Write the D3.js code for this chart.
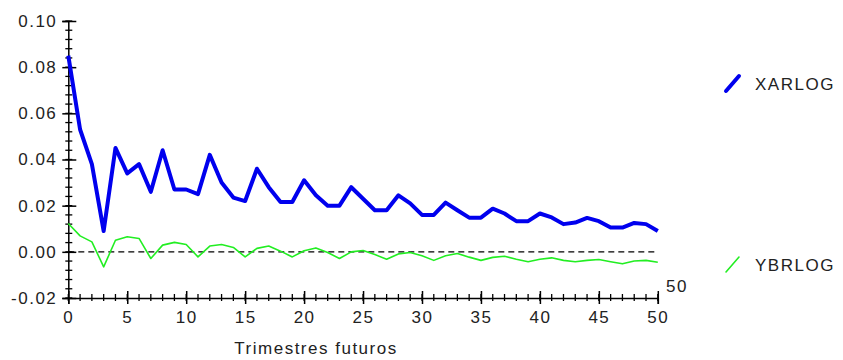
<!DOCTYPE html>
<html>
<head>
<meta charset="utf-8">
<script src="https://cdn.jsdelivr.net/npm/d3@7"></script>
<style>
  body { margin: 0; background: #fff; }
  svg text { font-family: "Liberation Sans", Arial, sans-serif; fill: #222; }
</style>
</head>
<body>
<div id="chart"></div>
<script>
// ── data ──
const quarters = d3.range(0, 51);
const xarlog = [
  0.085, 0.053, 0.038, 0.009, 0.045, 0.034, 0.038, 0.026, 0.044, 0.027,
  0.027, 0.025, 0.042, 0.030, 0.0235, 0.022, 0.036, 0.028, 0.0216, 0.0216,
  0.031, 0.0245, 0.020, 0.020, 0.028, 0.023, 0.018, 0.018, 0.0245, 0.021,
  0.016, 0.016, 0.0213, 0.018, 0.0148, 0.0148, 0.0187, 0.0166, 0.0133, 0.0133,
  0.0166, 0.0149, 0.012, 0.0127, 0.0147, 0.0133, 0.0105, 0.0105, 0.0125, 0.012,
  0.009
];
const ybrlog = [
  0.0123, 0.0069, 0.0043, -0.0065, 0.005, 0.0065, 0.0058, -0.0029, 0.0029, 0.0041,
  0.0032, -0.0022, 0.0025, 0.0032, 0.0019, -0.0022, 0.0015, 0.0025, 0.0003, -0.0022,
  0.0005, 0.0017, -0.0003, -0.0029, 0.0, 0.0006, -0.0012, -0.0032, -0.0009, -0.0003,
  -0.0017, -0.0037, -0.0017, -0.0007, -0.0023, -0.0037, -0.0024, -0.0019, -0.0032, -0.0043,
  -0.0032, -0.0026, -0.0037, -0.0043, -0.0037, -0.0033, -0.0043, -0.0052, -0.004, -0.0037,
  -0.0045
];
const seriesNames = ["XARLOG", "YBRLOG"];
const yTicks = [-0.02, 0.00, 0.02, 0.04, 0.06, 0.08, 0.10];
const yTickLabels = ["-0.02", "0.00", "0.02", "0.04", "0.06", "0.08", "0.10"];
const xTicks = [0, 5, 10, 15, 20, 25, 30, 35, 40, 45, 50];
const xTitle = "Trimestres futuros";

const W = 843, H = 360;
const x = d3.scaleLinear().domain([0, 50]).range([68.3, 657.8]);
const y = d3.scaleLinear().domain([-0.02, 0.10]).range([298, 21]);

const svg = d3.select("#chart").append("svg")
  .attr("width", W).attr("height", H);

// zero reference line
svg.append("line")
  .attr("x1", x(0)).attr("x2", x(50))
  .attr("y1", y(0)).attr("y2", y(0))
  .attr("stroke", "#000").attr("stroke-width", 1.3)
  .attr("stroke-dasharray", "6,4");

// ── axes ──
const axisFont = g => g.selectAll("text")
  .style("font-size", "17px").style("letter-spacing", "1.5px").attr("fill", "#222");

// y minor ticks
svg.append("g").selectAll("line")
  .data(d3.range(-0.02, 0.1001, 0.004))
  .join("line")
  .attr("x1", x(0) - 3).attr("x2", x(0) + 4)
  .attr("y1", d => y(d)).attr("y2", d => y(d))
  .attr("stroke", "#000").attr("stroke-width", 1.3);

const yAxis = svg.append("g")
  .attr("transform", `translate(${x(0)},0)`)
  .call(d3.axisLeft(y).tickValues(yTicks)
    .tickFormat((d, i) => yTickLabels[i]).tickSize(6).tickPadding(5));
yAxis.select(".domain").attr("stroke", "#000").attr("stroke-width", 1.5);
yAxis.selectAll(".tick line").attr("x1", 8).attr("stroke-width", 1.5);
yAxis.call(axisFont);

// x minor ticks
svg.append("g").selectAll("line")
  .data(quarters)
  .join("line")
  .attr("x1", d => x(d)).attr("x2", d => x(d))
  .attr("y1", y(-0.02) - 4).attr("y2", y(-0.02) + 3)
  .attr("stroke", "#000").attr("stroke-width", 1.3);

const xAxis = svg.append("g")
  .attr("transform", `translate(0,${y(-0.02)})`)
  .call(d3.axisBottom(x).tickValues(xTicks).tickFormat(d3.format("d"))
    .tickSize(6).tickPadding(7));
xAxis.select(".domain").attr("stroke", "#000").attr("stroke-width", 1.5);
xAxis.selectAll(".tick line").attr("y1", -7).attr("stroke-width", 1.5);
xAxis.call(axisFont);

// stray label right after the last tick
svg.append("text")
  .attr("x", 666).attr("y", 292)
  .style("font-size", "17px").style("letter-spacing", "1.5px")
  .text("50");

svg.append("text")
  .attr("x", 316).attr("y", 354)
  .attr("text-anchor", "middle")
  .style("font-size", "17px").style("letter-spacing", "1.5px")
  .text(xTitle);

// ── series ──
const line = d3.line().x((d, i) => x(quarters[i])).y(d => y(d));

svg.append("path")
  .datum(ybrlog)
  .attr("fill", "none").attr("stroke", "#22ee22").attr("stroke-width", 1.6)
  .attr("stroke-linejoin", "round")
  .attr("d", line);

svg.append("path")
  .datum(xarlog)
  .attr("fill", "none").attr("stroke", "#0000ee").attr("stroke-width", 4)
  .attr("stroke-linejoin", "round")
  .attr("d", line);

// ── legend ──
const legend = [
  { name: seriesNames[0], color: "#0000ee", width: 4, cy: 84 },
  { name: seriesNames[1], color: "#22ee22", width: 1.6, cy: 265 }
];
const lg = svg.append("g").selectAll("g").data(legend).join("g")
  .attr("transform", d => `translate(0,${d.cy})`);
lg.append("line")
  .attr("x1", 726).attr("y1", 7).attr("x2", 739).attr("y2", -8)
  .attr("stroke", d => d.color).attr("stroke-width", d => d.width)
  .attr("stroke-linecap", "round");
lg.append("text")
  .attr("x", 755).attr("y", 6)
  .style("font-size", "17px").style("letter-spacing", "1.5px")
  .text(d => d.name);
</script>
</body>
</html>
